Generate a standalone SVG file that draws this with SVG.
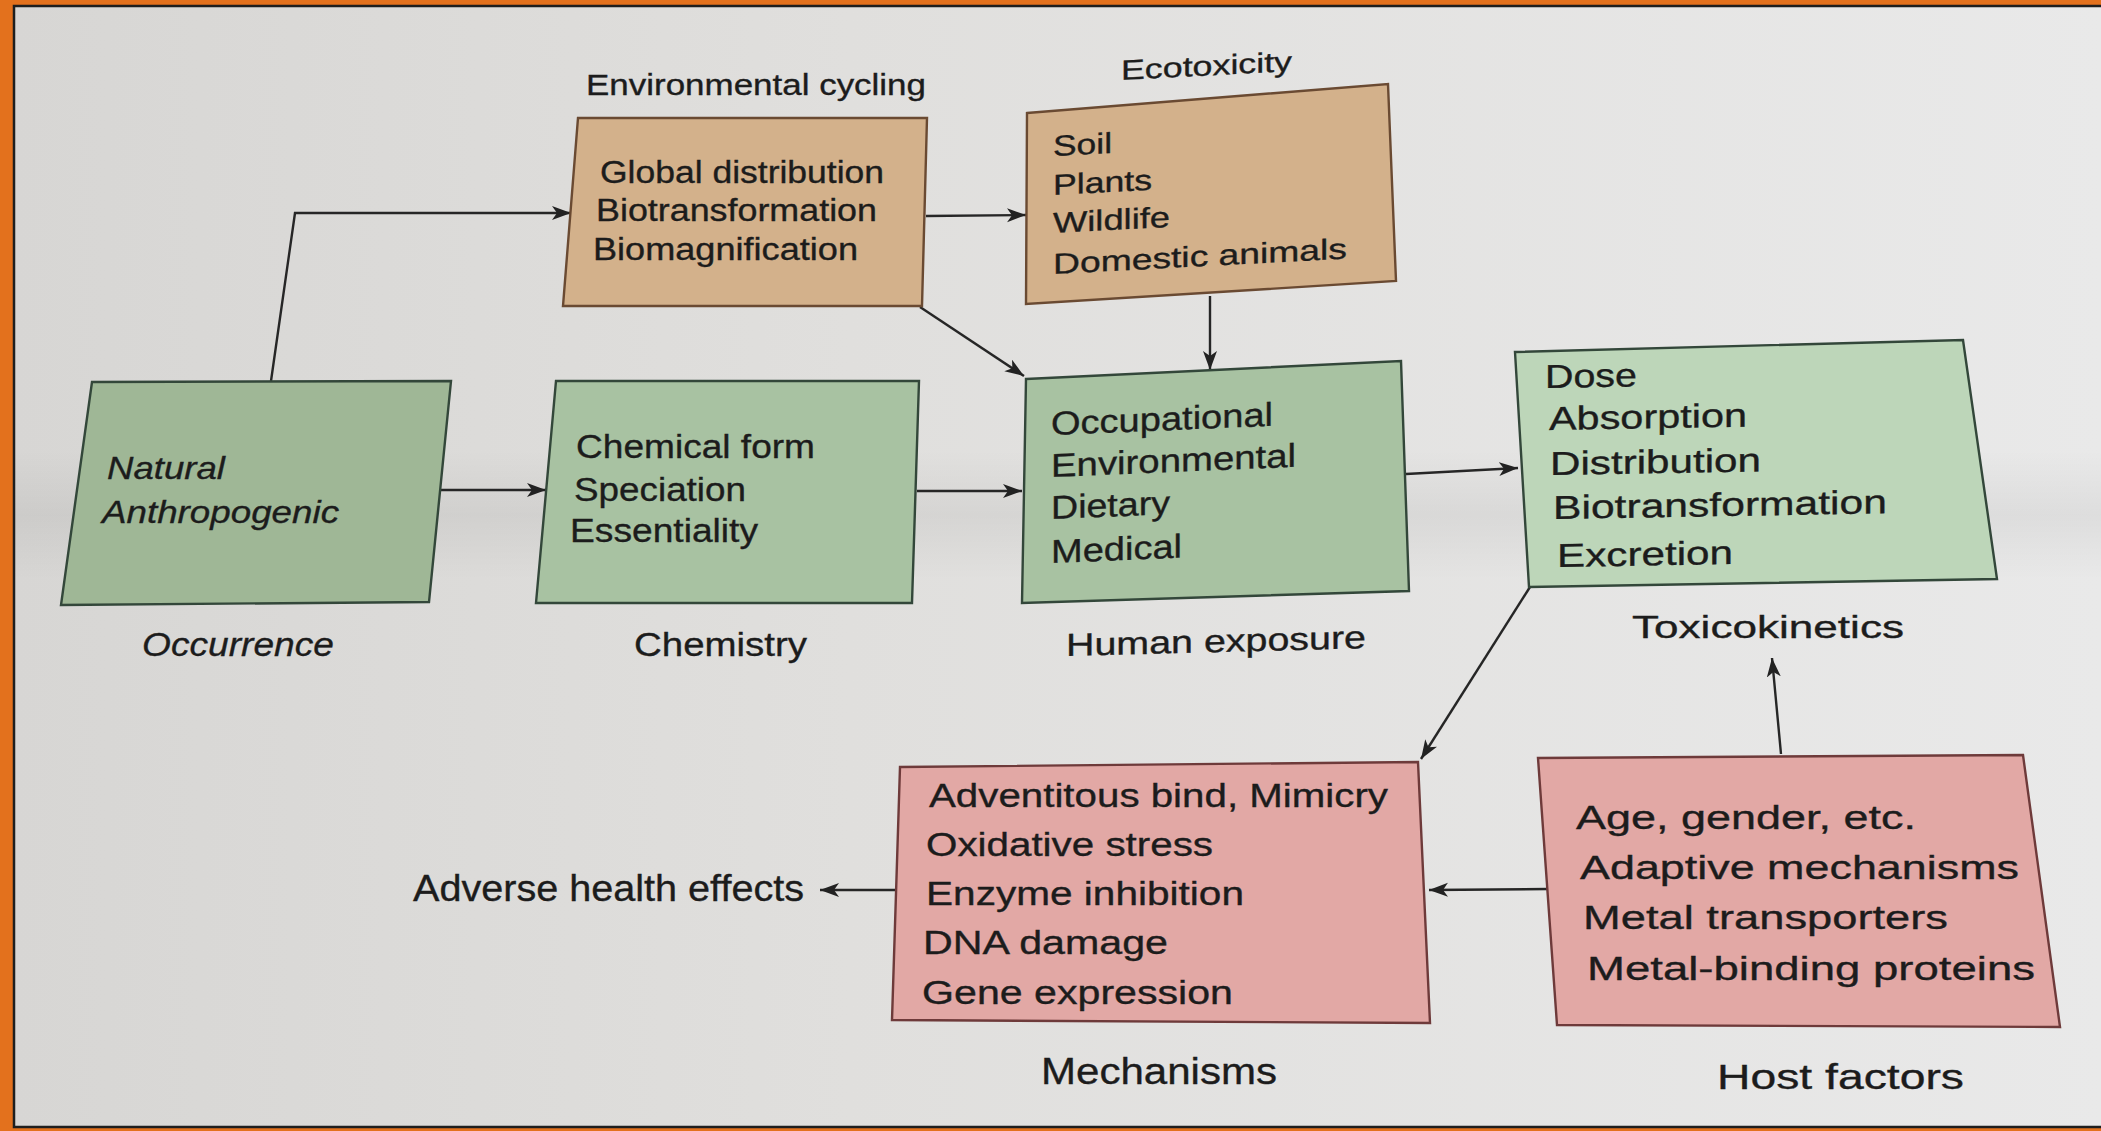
<svg xmlns="http://www.w3.org/2000/svg" width="2101" height="1131" viewBox="0 0 2101 1131">
<defs>
<linearGradient id="bg" x1="0" y1="0" x2="1" y2="0">
<stop offset="0" stop-color="#d7d6d4"/>
<stop offset="0.4" stop-color="#e0dfdd"/>
<stop offset="1" stop-color="#e9e9e9"/>
</linearGradient>
<linearGradient id="band" x1="0" y1="0" x2="0" y2="1">
<stop offset="0" stop-color="#000" stop-opacity="0"/>
<stop offset="0.5" stop-color="#000" stop-opacity="0.05"/>
<stop offset="1" stop-color="#000" stop-opacity="0"/>
</linearGradient>
<marker id="ah" markerUnits="userSpaceOnUse" markerWidth="22" markerHeight="16" refX="19" refY="7" orient="auto">
<path d="M0,0 L19,7 L0,14 L5,7 Z" fill="#222"/>
</marker>
<style>
.t{font-family:"Liberation Sans",Arial,Helvetica,sans-serif;fill:#1c1c1c;stroke:#1c1c1c;stroke-width:0.35;}
.i{font-style:italic;}
.g1{fill:#9fb796;stroke:#33473a;stroke-width:2.4;}
.g2{fill:#a8c2a2;stroke:#33473a;stroke-width:2.4;}
.g3{fill:#bdd6b9;stroke:#33473a;stroke-width:2.4;}
.o{fill:#d3b18b;stroke:#6a4a32;stroke-width:2.4;}
.p{fill:#e2a8a5;stroke:#6e3a3a;stroke-width:2.4;}
.c{fill:none;stroke:#262626;stroke-width:2.4;marker-end:url(#ah);}
</style>
</defs>
<rect x="0" y="0" width="2101" height="1131" fill="#e3711d"/>
<rect x="14" y="6" width="2089" height="1121" fill="url(#bg)" stroke="#1e1e1e" stroke-width="2.5"/>
<rect x="15" y="450" width="2086" height="130" fill="url(#band)"/>

<g id="connectors">
<polyline class="c" points="271,381 295,213 571,213"/>
<line class="c" x1="439" y1="490" x2="546" y2="490"/>
<line class="c" x1="926" y1="216" x2="1026" y2="215"/>
<line class="c" x1="920" y1="307" x2="1024" y2="376"/>
<line class="c" x1="1210" y1="296" x2="1210" y2="370"/>
<line class="c" x1="917" y1="491" x2="1022" y2="491"/>
<line class="c" x1="1406" y1="474" x2="1518" y2="468"/>
<line class="c" x1="1530" y1="587" x2="1421" y2="759"/>
<line class="c" x1="1781" y1="754" x2="1772" y2="658"/>
<line class="c" x1="1548" y1="889" x2="1429" y2="890"/>
<line class="c" x1="896" y1="890" x2="820" y2="890"/>
</g>

<g id="label-envcycling">
<text class="t" x="586" y="95" font-size="30" textLength="340" lengthAdjust="spacingAndGlyphs">Environmental cycling</text>
</g>
<g id="label-ecotoxicity">
<text class="t" transform="translate(1121,80) skewY(-3)" font-size="28" textLength="171" lengthAdjust="spacingAndGlyphs">Ecotoxicity</text>
</g>

<g id="node-environmental">
<polygon class="o" points="578,118 927,118 922,306 563,306"/>
<text class="t" x="600" y="183" font-size="31" textLength="284" lengthAdjust="spacingAndGlyphs">Global distribution</text>
<text class="t" x="596" y="221" font-size="31" textLength="281" lengthAdjust="spacingAndGlyphs">Biotransformation</text>
<text class="t" x="593" y="260" font-size="31" textLength="265" lengthAdjust="spacingAndGlyphs">Biomagnification</text>
</g>

<g id="node-ecotoxicity">
<polygon class="o" points="1027,113 1388,84 1396,281 1026,304"/>
<text class="t" transform="translate(1053,156) skewY(-3)" font-size="29" textLength="59" lengthAdjust="spacingAndGlyphs">Soil</text>
<text class="t" transform="translate(1053,195) skewY(-3)" font-size="29" textLength="99" lengthAdjust="spacingAndGlyphs">Plants</text>
<text class="t" transform="translate(1053,233) skewY(-3)" font-size="29" textLength="117" lengthAdjust="spacingAndGlyphs">Wildlife</text>
<text class="t" transform="translate(1053,274) skewY(-3)" font-size="29" textLength="294" lengthAdjust="spacingAndGlyphs">Domestic animals</text>
</g>

<g id="node-occurrence">
<polygon class="g1" points="92,382 451,381 429,602 61,605"/>
<text class="t i" x="107" y="479" font-size="32" textLength="118" lengthAdjust="spacingAndGlyphs">Natural</text>
<text class="t i" x="102" y="523" font-size="32" textLength="237" lengthAdjust="spacingAndGlyphs">Anthropogenic</text>
<text class="t i" x="142" y="656" font-size="34" textLength="192" lengthAdjust="spacingAndGlyphs">Occurrence</text>
</g>

<g id="node-chemistry">
<polygon class="g2" points="556,381 919,381 912,603 536,603"/>
<text class="t" x="576" y="458" font-size="33" textLength="239" lengthAdjust="spacingAndGlyphs">Chemical form</text>
<text class="t" x="574" y="501" font-size="33" textLength="172" lengthAdjust="spacingAndGlyphs">Speciation</text>
<text class="t" x="570" y="542" font-size="33" textLength="188" lengthAdjust="spacingAndGlyphs">Essentiality</text>
<text class="t" x="634" y="656" font-size="34" textLength="173" lengthAdjust="spacingAndGlyphs">Chemistry</text>
</g>

<g id="node-human-exposure">
<polygon class="g2" points="1026,379 1401,361 1409,591 1022,603"/>
<text class="t" transform="translate(1051,435) skewY(-2.4)" font-size="33" textLength="222" lengthAdjust="spacingAndGlyphs">Occupational</text>
<text class="t" transform="translate(1051,477) skewY(-2.4)" font-size="33" textLength="245" lengthAdjust="spacingAndGlyphs">Environmental</text>
<text class="t" transform="translate(1051,519) skewY(-2.4)" font-size="33" textLength="119" lengthAdjust="spacingAndGlyphs">Dietary</text>
<text class="t" transform="translate(1051,563) skewY(-2.4)" font-size="33" textLength="131" lengthAdjust="spacingAndGlyphs">Medical</text>
<text class="t" transform="translate(1066,656) skewY(-1.5)" font-size="32" textLength="300" lengthAdjust="spacingAndGlyphs">Human exposure</text>
</g>

<g id="node-toxicokinetics">
<polygon class="g3" points="1515,352 1963,340 1997,579 1529,587"/>
<text class="t" transform="translate(1545,388) skewY(-1)" font-size="33" textLength="92" lengthAdjust="spacingAndGlyphs">Dose</text>
<text class="t" transform="translate(1549,430) skewY(-1)" font-size="33" textLength="198" lengthAdjust="spacingAndGlyphs">Absorption</text>
<text class="t" transform="translate(1550,475) skewY(-1)" font-size="33" textLength="211" lengthAdjust="spacingAndGlyphs">Distribution</text>
<text class="t" transform="translate(1553,519) skewY(-1)" font-size="33" textLength="334" lengthAdjust="spacingAndGlyphs">Biotransformation</text>
<text class="t" transform="translate(1557,567) skewY(-1)" font-size="33" textLength="176" lengthAdjust="spacingAndGlyphs">Excretion</text>
<text class="t" x="1632" y="638" font-size="32" textLength="272" lengthAdjust="spacingAndGlyphs">Toxicokinetics</text>
</g>

<g id="node-mechanisms">
<polygon class="p" points="900,767 1418,762 1430,1023 892,1020"/>
<text class="t" x="929" y="807" font-size="33" textLength="459" lengthAdjust="spacingAndGlyphs">Adventitous bind, Mimicry</text>
<text class="t" x="926" y="856" font-size="33" textLength="287" lengthAdjust="spacingAndGlyphs">Oxidative stress</text>
<text class="t" x="926" y="905" font-size="33" textLength="318" lengthAdjust="spacingAndGlyphs">Enzyme inhibition</text>
<text class="t" x="923" y="954" font-size="33" textLength="245" lengthAdjust="spacingAndGlyphs">DNA damage</text>
<text class="t" x="922" y="1004" font-size="33" textLength="311" lengthAdjust="spacingAndGlyphs">Gene expression</text>
<text class="t" x="1041" y="1084" font-size="37" textLength="236" lengthAdjust="spacingAndGlyphs">Mechanisms</text>
</g>

<g id="node-host-factors">
<polygon class="p" points="1538,758 2023,755 2060,1027 1557,1025"/>
<text class="t" x="1576" y="829" font-size="33" textLength="340" lengthAdjust="spacingAndGlyphs">Age, gender, etc.</text>
<text class="t" x="1580" y="879" font-size="33" textLength="439" lengthAdjust="spacingAndGlyphs">Adaptive mechanisms</text>
<text class="t" x="1583" y="929" font-size="33" textLength="365" lengthAdjust="spacingAndGlyphs">Metal transporters</text>
<text class="t" x="1587" y="980" font-size="33" textLength="448" lengthAdjust="spacingAndGlyphs">Metal-binding proteins</text>
<text class="t" x="1717" y="1089" font-size="35" textLength="247" lengthAdjust="spacingAndGlyphs">Host factors</text>
</g>

<g id="node-adverse">
<text class="t" x="413" y="901" font-size="37" textLength="391" lengthAdjust="spacingAndGlyphs">Adverse health effects</text>
</g>
</svg>
